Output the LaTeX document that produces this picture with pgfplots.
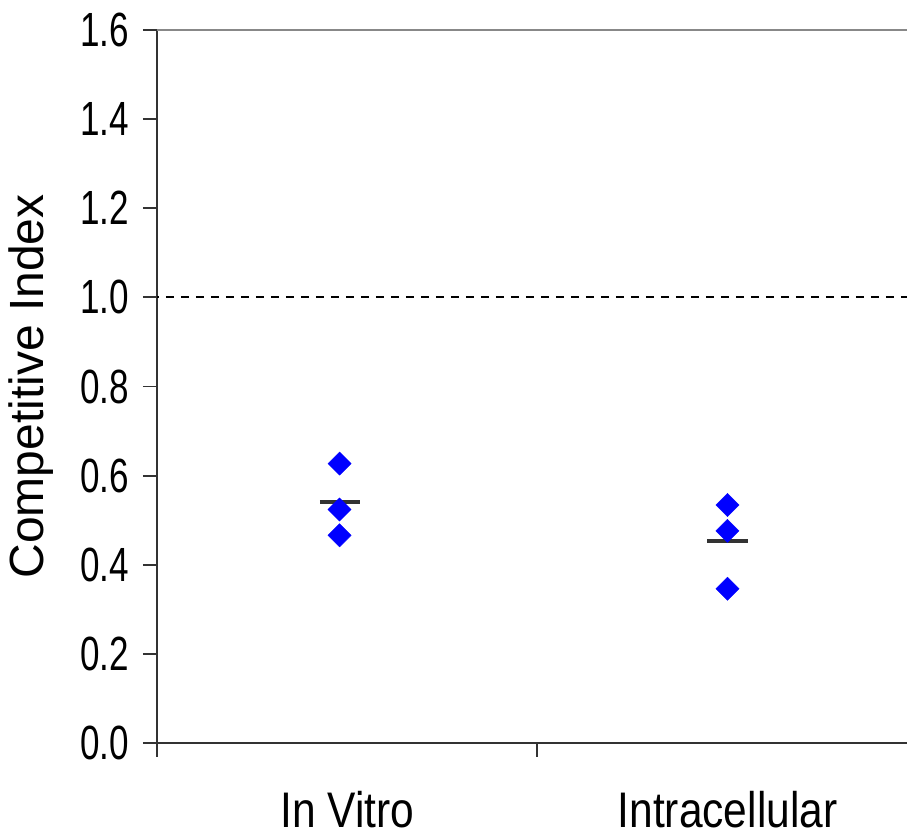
\documentclass[border=0pt]{standalone}
\usepackage{pgfplots}
\pgfplotsset{compat=1.18}
\usepackage{fontspec}
\setmainfont{Liberation Sans}
\newfontfamily\tickfont{Liberation Sans}[FakeStretch=0.73]
\newfontfamily\catfont{Liberation Sans}[FakeStretch=0.85]
\definecolor{axisgray}{HTML}{333333}
\definecolor{topgray}{HTML}{888888}
\begin{document}
\begin{tikzpicture}
\path[use as bounding box] (-78.5pt,-47.5pt) rectangle (375pt,371.5pt);
\begin{axis}[
  at={(0,0)}, anchor=south west,
  scale only axis, width=375pt, height=356.5pt,
  xmin=0, xmax=1.972, ymin=0, ymax=1.6,
  axis lines=left,
  axis line style={-, axisgray, line width=1pt},
  xtick={0,1,2}, xticklabels={},
  ytick={0,0.2,...,1.6},
  yticklabels={0.0,0.2,0.4,0.6,0.8,1.0,1.2,1.4,1.6},
  yticklabel style={font={\fontsize{24}{28}\selectfont\tickfont}, anchor=east, xshift=-3.5pt},
  tick align=outside, major tick length=7pt,
  tick style={axisgray, line width=0.9pt},
  clip=false,
]
\addplot[topgray, line width=1.3pt] coordinates {(0,1.6) (1.972,1.6)};
\addplot[black, line width=1pt, dash pattern=on 4pt off 3.5pt, dash phase=-4.5pt] coordinates {(0,1) (1.972,1)};
\addplot[only marks, mark=square*, mark size=4.1pt, mark options={fill=blue, draw=blue, line width=0.2pt, rotate=45}]
  coordinates {(0.48,0.627) (0.48,0.524) (0.48,0.466)};
\addplot[only marks, mark=square*, mark size=4.1pt, mark options={fill=blue, draw=blue, line width=0.2pt, rotate=45}]
  coordinates {(1.5,0.534) (1.5,0.476) (1.5,0.346)};
\addplot[axisgray, line width=2pt] coordinates {(0.428,0.541) (0.534,0.541)};
\addplot[axisgray, line width=2pt] coordinates {(1.447,0.454) (1.553,0.454)};
\node[anchor=base, yshift=-42.5pt, font={\fontsize{25}{30}\selectfont\catfont}] at (axis cs:0.5,0) {In Vitro};
\node[anchor=base, yshift=-42.5pt, font={\fontsize{25}{30}\selectfont\catfont}] at (axis cs:1.5,0) {Intracellular};
\end{axis}
\node[rotate=90, font={\fontsize{24}{28}\selectfont}] at (-63pt,178.25pt) {Competitive Index};
\end{tikzpicture}
\end{document}
